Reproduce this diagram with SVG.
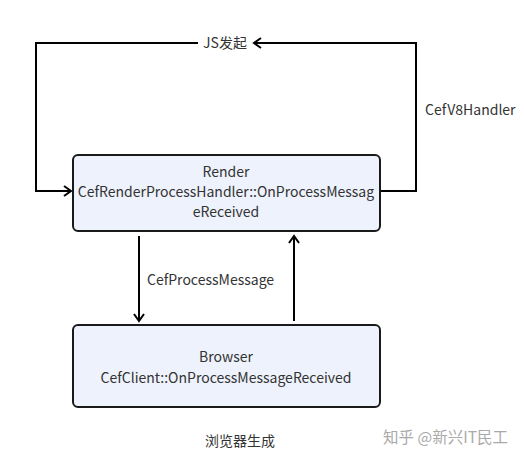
<svg xmlns="http://www.w3.org/2000/svg" width="524" height="461" viewBox="0 0 524 461">
<style>
.box{fill:#eef2fc;stroke:#1a1a1a;stroke-width:2}
.t{font-family:"Noto Sans CJK SC","Noto Sans",sans-serif;font-size:14px;fill:#333;text-anchor:middle}
.l{font-family:"Noto Sans CJK SC","Noto Sans",sans-serif;font-size:14px;fill:#333}
.c{fill:none;stroke:#000;stroke-width:2}
</style>
<defs>
<marker id="ah" markerWidth="10" markerHeight="12" refX="8" refY="6" orient="auto" markerUnits="userSpaceOnUse">
<path d="M1,1 L8,6 L1,11" fill="none" stroke="#000" stroke-width="2"/>
</marker>
</defs>
<rect width="524" height="461" fill="#fff"/>
<g id="connectors">
<path class="c" d="M380,191 H416 V43 H254" marker-end="url(#ah)"/>
<path class="c" d="M198,43 H36 V191 H71" marker-end="url(#ah)"/>
<path class="c" d="M139,236 V321" marker-end="url(#ah)"/>
<path class="c" d="M294,321 V236" marker-end="url(#ah)"/>
<text class="t" x="225" y="48">JS发起</text>
<text class="l" x="425" y="115">CefV8Handler</text>
<text class="l" x="147" y="285">CefProcessMessage</text>
</g>
<g id="render">
<rect class="box" x="73" y="155" width="307" height="76" rx="5"/>
<text class="t" x="226" y="177">Render</text>
<text class="t" x="226" y="197">CefRenderProcessHandler::OnProcessMessag</text>
<text class="t" x="226" y="217">eReceived</text>
</g>
<g id="browser">
<rect class="box" x="73" y="325" width="307" height="82" rx="5"/>
<text class="t" x="226" y="362">Browser</text>
<text class="t" x="226" y="383">CefClient::OnProcessMessageReceived</text>
</g>
<text class="l" x="205" y="446">浏览器生成</text>
<text class="l" x="383" y="443" style="fill:#aaa;font-size:15.5px">知乎 @新兴IT民工</text>
</svg>
